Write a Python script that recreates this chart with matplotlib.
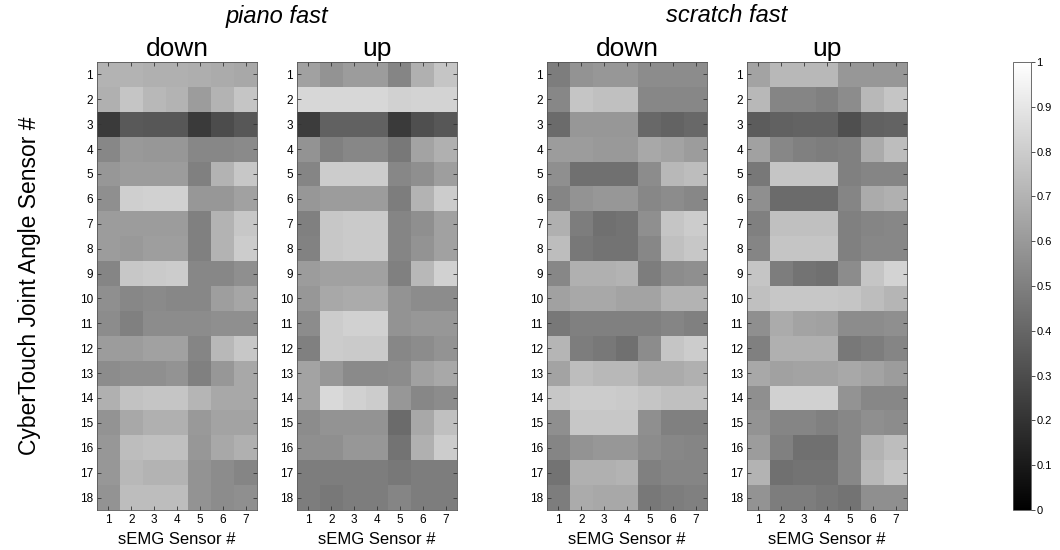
import numpy as np
import matplotlib
matplotlib.use("Agg")
import matplotlib.pyplot as plt

plt.rcParams['font.family'] = ['Liberation Sans', 'DejaVu Sans']

# normalised correlation per joint angle sensor (rows) and sEMG sensor (columns)
piano_down = [
    [0.70, 0.70, 0.69, 0.69, 0.68, 0.67, 0.66],
    [0.69, 0.77, 0.72, 0.70, 0.61, 0.70, 0.77],
    [0.23, 0.35, 0.34, 0.34, 0.23, 0.30, 0.34],
    [0.53, 0.60, 0.59, 0.59, 0.53, 0.53, 0.54],
    [0.59, 0.61, 0.61, 0.61, 0.50, 0.70, 0.78],
    [0.56, 0.81, 0.82, 0.82, 0.59, 0.59, 0.63],
    [0.61, 0.61, 0.61, 0.61, 0.50, 0.70, 0.78],
    [0.61, 0.60, 0.62, 0.62, 0.50, 0.70, 0.80],
    [0.52, 0.78, 0.79, 0.80, 0.53, 0.53, 0.56],
    [0.56, 0.53, 0.54, 0.53, 0.53, 0.62, 0.65],
    [0.55, 0.50, 0.55, 0.55, 0.55, 0.56, 0.56],
    [0.61, 0.61, 0.63, 0.63, 0.52, 0.72, 0.78],
    [0.55, 0.56, 0.56, 0.58, 0.50, 0.59, 0.66],
    [0.69, 0.76, 0.77, 0.77, 0.71, 0.66, 0.66],
    [0.58, 0.66, 0.69, 0.69, 0.60, 0.64, 0.64],
    [0.59, 0.74, 0.75, 0.75, 0.59, 0.66, 0.69],
    [0.59, 0.72, 0.70, 0.70, 0.58, 0.55, 0.52],
    [0.58, 0.74, 0.74, 0.74, 0.58, 0.55, 0.56],
]

piano_up = [
    [0.63, 0.58, 0.61, 0.61, 0.52, 0.69, 0.77],
    [0.84, 0.84, 0.84, 0.84, 0.82, 0.83, 0.83],
    [0.24, 0.38, 0.38, 0.38, 0.23, 0.31, 0.34],
    [0.58, 0.50, 0.53, 0.53, 0.47, 0.64, 0.69],
    [0.52, 0.80, 0.80, 0.80, 0.53, 0.56, 0.62],
    [0.59, 0.61, 0.61, 0.61, 0.49, 0.70, 0.80],
    [0.50, 0.78, 0.79, 0.79, 0.52, 0.56, 0.63],
    [0.51, 0.78, 0.79, 0.79, 0.52, 0.58, 0.63],
    [0.61, 0.63, 0.63, 0.63, 0.50, 0.72, 0.82],
    [0.59, 0.66, 0.67, 0.67, 0.58, 0.55, 0.55],
    [0.55, 0.80, 0.82, 0.82, 0.58, 0.59, 0.59],
    [0.50, 0.80, 0.79, 0.79, 0.53, 0.55, 0.58],
    [0.64, 0.59, 0.54, 0.54, 0.55, 0.63, 0.66],
    [0.64, 0.85, 0.82, 0.80, 0.59, 0.53, 0.55],
    [0.55, 0.58, 0.58, 0.58, 0.42, 0.66, 0.75],
    [0.56, 0.56, 0.59, 0.59, 0.45, 0.69, 0.80],
    [0.49, 0.49, 0.49, 0.49, 0.47, 0.49, 0.49],
    [0.49, 0.47, 0.49, 0.49, 0.52, 0.49, 0.49],
]

scratch_down = [
    [0.49, 0.58, 0.59, 0.59, 0.55, 0.55, 0.55],
    [0.53, 0.77, 0.75, 0.75, 0.53, 0.53, 0.53],
    [0.42, 0.59, 0.59, 0.59, 0.41, 0.39, 0.41],
    [0.61, 0.61, 0.60, 0.60, 0.66, 0.64, 0.61],
    [0.56, 0.44, 0.44, 0.44, 0.55, 0.72, 0.74],
    [0.52, 0.58, 0.59, 0.59, 0.53, 0.55, 0.53],
    [0.69, 0.49, 0.44, 0.45, 0.56, 0.77, 0.80],
    [0.74, 0.47, 0.45, 0.45, 0.53, 0.75, 0.78],
    [0.53, 0.69, 0.69, 0.70, 0.49, 0.55, 0.56],
    [0.63, 0.66, 0.66, 0.64, 0.64, 0.70, 0.70],
    [0.47, 0.50, 0.50, 0.50, 0.50, 0.52, 0.50],
    [0.71, 0.49, 0.47, 0.44, 0.55, 0.77, 0.80],
    [0.64, 0.74, 0.72, 0.72, 0.67, 0.67, 0.69],
    [0.78, 0.80, 0.80, 0.79, 0.77, 0.75, 0.75],
    [0.56, 0.78, 0.78, 0.78, 0.56, 0.50, 0.50],
    [0.52, 0.58, 0.59, 0.59, 0.55, 0.53, 0.52],
    [0.45, 0.69, 0.69, 0.70, 0.50, 0.52, 0.52],
    [0.49, 0.67, 0.66, 0.66, 0.47, 0.49, 0.50],
]

scratch_up = [
    [0.64, 0.72, 0.72, 0.72, 0.59, 0.59, 0.59],
    [0.72, 0.52, 0.52, 0.50, 0.55, 0.72, 0.77],
    [0.36, 0.38, 0.39, 0.39, 0.31, 0.38, 0.39],
    [0.63, 0.53, 0.50, 0.49, 0.50, 0.67, 0.74],
    [0.47, 0.77, 0.77, 0.77, 0.50, 0.52, 0.52],
    [0.56, 0.42, 0.42, 0.42, 0.52, 0.67, 0.69],
    [0.50, 0.75, 0.75, 0.75, 0.50, 0.52, 0.53],
    [0.52, 0.77, 0.77, 0.77, 0.50, 0.53, 0.53],
    [0.77, 0.49, 0.45, 0.44, 0.55, 0.77, 0.83],
    [0.75, 0.78, 0.78, 0.78, 0.77, 0.74, 0.71],
    [0.56, 0.67, 0.64, 0.63, 0.55, 0.55, 0.56],
    [0.50, 0.69, 0.69, 0.69, 0.47, 0.49, 0.52],
    [0.66, 0.63, 0.64, 0.64, 0.66, 0.64, 0.61],
    [0.56, 0.82, 0.82, 0.82, 0.58, 0.53, 0.53],
    [0.58, 0.52, 0.52, 0.50, 0.53, 0.56, 0.55],
    [0.61, 0.50, 0.44, 0.44, 0.53, 0.70, 0.74],
    [0.70, 0.44, 0.45, 0.45, 0.53, 0.72, 0.77],
    [0.58, 0.49, 0.49, 0.47, 0.45, 0.56, 0.56],
]

emg_sensors = [1, 2, 3, 4, 5, 6, 7]
joint_sensors = list(range(1, 19))
directions = ["down", "up", "down", "up"]
groups = ["piano fast", "scratch fast"]
cbar_ticks = [0, 0.1, 0.2, 0.3, 0.4, 0.5, 0.6, 0.7, 0.8, 0.9, 1]

W, H = 1060, 550
fig = plt.figure(figsize=(W / 100, H / 100), dpi=100)


def px_axes(x0, x1, y0, y1):
    return fig.add_axes([x0 / W, 1 - y1 / H, (x1 - x0) / W, (y1 - y0) / H])


panel_x = [97, 297, 547, 747]
panel_w = 160
top, bottom = 62, 510
mats = [piano_down, piano_up, scratch_down, scratch_up]

for i, (m, x0) in enumerate(zip(mats, panel_x)):
    ax = px_axes(x0, x0 + panel_w, top, bottom)
    im = ax.imshow(np.array(m), cmap="gray", vmin=0, vmax=1, aspect="auto",
                   interpolation="nearest",
                   extent=(0.5, 7.5, 18.5, 0.5))
    ax.set_xticks(emg_sensors)
    ax.set_yticks(joint_sensors)
    ax.tick_params(direction="in", length=3, width=0.6, labelsize=8.5,
                   top=True, right=True, color="#333333", pad=3)
    for s in ax.spines.values():
        s.set_linewidth(0.6)
        s.set_color("#555555")
    ax.set_xlabel("sEMG Sensor #", fontsize=12, labelpad=4)
    ax.set_title(directions[i], fontsize=19, pad=4)

fig.text((panel_x[0] + panel_x[1] + panel_w) / 2 / W, 1 - 16 / H, groups[0],
         fontsize=17, style="italic", ha="center", va="center")
fig.text((panel_x[2] + panel_x[3] + panel_w) / 2 / W, 1 - 16 / H, groups[1],
         fontsize=17, style="italic", ha="center", va="center")
fig.text(30 / W, 1 - (top + bottom) / 2 / H, "CyberTouch Joint Angle Sensor #",
         fontsize=16.5, rotation=90, ha="center", va="center")

cax = px_axes(1013, 1031, top, bottom)
cb = fig.colorbar(im, cax=cax, ticks=cbar_ticks)
cb.ax.set_yticklabels(["0", "0.1", "0.2", "0.3", "0.4", "0.5", "0.6",
                       "0.7", "0.8", "0.9", "1"])
cb.ax.tick_params(direction="out", length=3, width=0.6, labelsize=8,
                  color="#333333", pad=1)
cb.outline.set_linewidth(0.6)
cb.outline.set_edgecolor("#555555")

fig.savefig("out.png", dpi=100)
